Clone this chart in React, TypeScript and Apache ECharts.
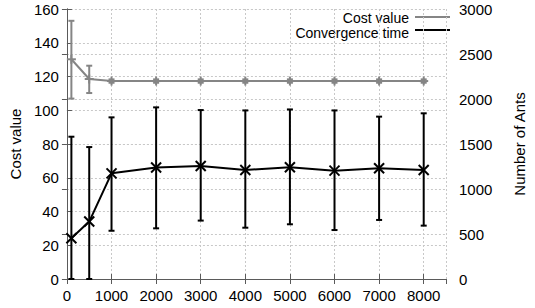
import React, { useEffect, useRef } from "react";
import * as echarts from "echarts";

// Data
const antCounts = [100, 500, 1000, 2000, 3000, 4000, 5000, 6000, 7000, 8000];
const costMean = [130.2, 118.5, 117.3, 117.3, 117.3, 117.3, 117.3, 117.3, 117.3, 117.3];
const costLow = [106.9, 110.2, 116.3, 116.3, 116.3, 116.3, 116.3, 116.3, 116.3, 116.3];
const costHigh = [153.0, 126.4, 118.3, 118.3, 118.3, 118.3, 118.3, 118.3, 118.3, 118.3];
const convMean = [452, 638, 1174, 1238, 1256, 1211, 1241, 1204, 1230, 1211];
const convLow = [0, 0, 536, 563, 649, 570, 608, 544, 656, 593];
const convHigh = [1581, 1466, 1796, 1907, 1877, 1873, 1884, 1873, 1804, 1841];

const xTicks = [0, 1000, 2000, 3000, 4000, 5000, 6000, 7000, 8000];
const leftTicks = [0, 20, 40, 60, 80, 100, 120, 140, 160];
const rightTicks = [0, 500, 1000, 1500, 2000, 2500, 3000];

const seriesNames = ["Cost value", "Convergence time"];
const leftAxisName = "Cost value";
const rightAxisName = "Number of Ants";

const GRAY = "#858585";
const BLACK = "#000000";
const BORDER = "#5a5a5a";
const GRID = "#c8c8c8";
const FONT = "Liberation Sans, Arial, sans-serif";

function makeErrorRenderer(color: string, marker: "plus" | "cross", lw: number) {
  return (params: any, api: any) => {
    const x = api.value(0);
    const y = api.value(1);
    const lo = api.value(2);
    const hi = api.value(3);
    const pc = api.coord([x, y]);
    const pl = api.coord([x, lo]);
    const ph = api.coord([x, hi]);
    const cap = 3;
    const style = { stroke: color, lineWidth: lw };
    const children: any[] = [
      { type: "line", shape: { x1: pl[0], y1: pl[1], x2: ph[0], y2: ph[1] }, style },
      { type: "line", shape: { x1: pl[0] - cap, y1: pl[1], x2: pl[0] + cap, y2: pl[1] }, style },
      { type: "line", shape: { x1: ph[0] - cap, y1: ph[1], x2: ph[0] + cap, y2: ph[1] }, style },
    ];
    if (marker === "cross") {
      const s = 5;
      children.push(
        { type: "line", shape: { x1: pc[0] - s, y1: pc[1] - s, x2: pc[0] + s, y2: pc[1] + s }, style },
        { type: "line", shape: { x1: pc[0] - s, y1: pc[1] + s, x2: pc[0] + s, y2: pc[1] - s }, style }
      );
    } else {
      const s = 4.5;
      children.push(
        { type: "line", shape: { x1: pc[0] - s, y1: pc[1], x2: pc[0] + s, y2: pc[1] }, style },
        { type: "line", shape: { x1: pc[0], y1: pc[1] - s, x2: pc[0], y2: pc[1] + s }, style }
      );
    }
    return { type: "group", children };
  };
}

export default function App() {
  const ref = useRef<HTMLDivElement>(null);
  useEffect(() => {
    if (!ref.current) return;
    const chart = echarts.init(ref.current, null, { renderer: "svg" });
    const axisLine = { show: true, lineStyle: { color: BORDER, width: 1 } };
    const splitLine = { show: true, lineStyle: { color: GRID, type: [2, 2] as any, width: 1 } };
    const label = { color: "#000", fontSize: 15, fontFamily: FONT };
    const option: any = {
      animation: false,
      textStyle: { fontFamily: FONT },
      grid: { left: 62, right: 72, top: 9, bottom: 29, containLabel: false },
      xAxis: [
        {
          type: "value",
          min: 0,
          max: 8500,
          interval: 1000,
          position: "bottom",
          axisLine,
          axisTick: { show: true, inside: true, length: 5, lineStyle: { color: BORDER } },
          axisLabel: {
            ...label,
            margin: 9,
            showMaxLabel: false,
            formatter: (v: number) => (xTicks.includes(v) ? String(v) : ""),
          },
          splitLine: {
            show: true,
            lineStyle: { color: GRID, type: [2, 2] as any, width: 1 },
          },
        },
        {
          type: "value",
          min: 0,
          max: 8500,
          interval: 1000,
          position: "top",
          axisLine,
          axisTick: { show: true, inside: true, length: 5, lineStyle: { color: BORDER } },
          axisLabel: { show: false },
          splitLine: { show: false },
        },
      ],
      yAxis: [
        {
          type: "value",
          min: leftTicks[0],
          max: leftTicks[leftTicks.length - 1],
          interval: 20,
          position: "left",
          name: leftAxisName,
          nameLocation: "middle",
          nameGap: 39,
          nameTextStyle: { color: "#000", fontSize: 15, fontFamily: FONT },
          axisLine,
          axisTick: { show: true, inside: true, length: 5, lineStyle: { color: BORDER } },
          axisLabel: {
            ...label,
            margin: 8,
            formatter: (v: number) => (leftTicks.includes(v) ? String(v) : ""),
          },
          splitLine,
        },
        {
          type: "value",
          min: rightTicks[0],
          max: rightTicks[rightTicks.length - 1],
          interval: 500,
          position: "right",
          name: rightAxisName,
          nameLocation: "middle",
          nameGap: 66,
          nameRotate: 90,
          nameTextStyle: { color: "#000", fontSize: 15, fontFamily: FONT },
          axisLine,
          axisTick: { show: true, inside: true, length: 5, lineStyle: { color: BORDER } },
          axisLabel: {
            ...label,
            margin: 13,
            formatter: (v: number) => (rightTicks.includes(v) ? String(v) : ""),
          },
          splitLine,
        },
      ],
      series: [
        {
          name: seriesNames[0],
          type: "line",
          xAxisIndex: 0,
          yAxisIndex: 0,
          data: antCounts.map((x, i) => [x, costMean[i]]),
          symbol: "none",
          lineStyle: { color: GRAY, width: 2 },
          z: 3,
        },
        {
          name: seriesNames[0] + " error",
          type: "custom",
          xAxisIndex: 0,
          yAxisIndex: 0,
          data: antCounts.map((x, i) => [x, costMean[i], costLow[i], costHigh[i]]),
          renderItem: makeErrorRenderer(GRAY, "plus", 2),
          z: 4,
        },
        {
          name: seriesNames[1],
          type: "line",
          xAxisIndex: 0,
          yAxisIndex: 1,
          data: antCounts.map((x, i) => [x, convMean[i]]),
          symbol: "none",
          lineStyle: { color: BLACK, width: 2 },
          z: 3,
        },
        {
          name: seriesNames[1] + " error",
          type: "custom",
          xAxisIndex: 0,
          yAxisIndex: 1,
          data: antCounts.map((x, i) => [x, convMean[i], convLow[i], convHigh[i]]),
          renderItem: makeErrorRenderer(BLACK, "cross", 2),
          z: 4,
        },
      ],
      graphic: [
        {
          type: "text",
          right: 535 - 409,
          top: 11,
          style: {
            text: seriesNames[0],
            fill: "#000",
            fontSize: 14,
            lineHeight: 14,
            fontFamily: FONT,
            textAlign: "right",
          },
        },
        {
          type: "text",
          right: 535 - 409,
          top: 25.5,
          style: {
            text: seriesNames[1],
            fill: "#000",
            fontSize: 14,
            lineHeight: 14,
            fontFamily: FONT,
            textAlign: "right",
          },
        },
        { type: "line", shape: { x1: 415, y1: 17, x2: 450, y2: 17 }, style: { stroke: GRAY, lineWidth: 2 } },
        { type: "line", shape: { x1: 415, y1: 30, x2: 450, y2: 30 }, style: { stroke: BLACK, lineWidth: 2 } },
      ],
    };
    chart.setOption(option);
    return () => chart.dispose();
  }, []);
  return <div ref={ref} style={{ width: 535, height: 308, position: "absolute", left: 0, top: 0 }} />;
}
